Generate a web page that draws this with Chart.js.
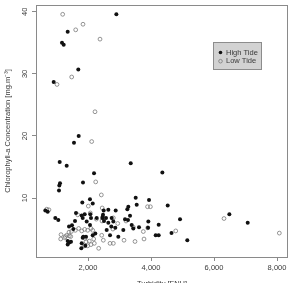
<!DOCTYPE html>
<html lang="en">
<head>
<meta charset="UTF-8">
<title>Chlorophyll-a vs Turbidity</title>
<style>
  html, body { margin: 0; padding: 0; background: #fff; }
</style>
</head>
<body>
<canvas id="myChart" width="293" height="283"></canvas>
<script src="https://cdn.jsdelivr.net/npm/chart.js@4.4.0/dist/chart.umd.min.js"></script>
<script>
  // --------------------------------------------------------------- data

  var seriesNames = ['High Tide', 'Low Tide']
  var xTicks = [2000, 4000, 6000, 8000]
  var yTicks = [10, 20, 30, 40]

  var highTideX = [2900, 1355, 1174, 1228, 1692, 911, 1704, 1555, 1101, 1323, 3356, 2191, 4360,
    1111, 1089, 1079, 1841, 3514, 3937, 1819, 2063, 2150, 3546, 4530, 645, 720, 1619, 1895, 2073,
    2498, 2645, 2879, 3248, 3280, 962, 1057, 1587, 1831, 1958, 2276, 2454, 2466, 2508, 2752, 2804,
    3334, 3175, 3915, 6487, 4921, 7070, 3905, 4244, 4149, 4244, 4651, 5152, 1492, 1535, 2063, 2645,
    2740, 2867, 3121, 3387, 3438, 3619, 2593, 2699, 2962, 1355, 1407, 1460, 1355, 1831, 1800, 1788,
    1915, 2149, 2232, 1937, 1851, 1397, 1800, 2095, 2476, 2571, 3270]
  var highTideY = [39.6, 36.8, 35.0, 34.7, 30.7, 28.7, 20.0, 18.9, 15.8, 15.2, 15.6, 14.0, 14.1,
    12.4, 12.0, 11.2, 12.5, 10.05, 9.7, 9.3, 9.8, 9.1, 8.9, 8.8, 8.0, 7.8, 7.6, 7.4, 7.4,
    8.0, 8.1, 8.0, 8.2, 8.6, 6.8, 6.45, 6.3, 6.8, 6.2, 6.8, 6.8, 7.0, 6.3, 6.8, 6.2,
    7.15, 6.6, 6.2, 7.4, 6.6, 6.0, 5.2, 5.7, 4.0, 4.0, 4.35, 3.2, 5.6, 5.0, 5.65, 6.0,
    5.4, 5.2, 4.85, 5.65, 5.1, 5.3, 4.85, 4.0, 3.75, 3.06, 2.85, 2.95, 2.5, 3.6, 2.7, 1.9,
    2.3, 4.0, 4.3, 3.75, 3.75, 5.4, 7.2, 6.8, 7.3, 6.8, 6.45]

  var lowTideX = [1196, 1841, 1609, 2381, 1016, 1482, 2222, 2117, 2244, 2423, 2010, 1673, 2450,
    3890, 3980, 690, 760, 2073, 2264, 2444, 2804, 2943, 3207, 3896, 3438, 3143, 3492, 3778, 3756,
    4785, 6318, 8074, 2339, 1143, 1133, 1280, 1451, 1397, 1597, 1704, 1800, 1895, 1990, 2095, 2149,
    1260, 1323, 1407, 1905, 1937, 2042, 1883, 1990, 2095, 2181, 2200, 2435, 2486, 2699, 2804, 2790, 1470]
  var lowTideY = [39.6, 38.0, 37.1, 35.6, 28.3, 29.5, 23.9, 19.1, 12.6, 10.5, 8.7, 7.3, 8.4,
    8.6, 8.6, 8.2, 8.1, 7.6, 6.6, 6.3, 6.8, 5.9, 6.3, 5.2, 5.3, 3.2, 3.0, 3.4, 4.6,
    4.7, 6.7, 4.35, 1.9, 4.1, 3.4, 3.8, 3.8, 4.5, 4.8, 5.1, 4.7, 4.95, 4.8, 5.1, 4.8,
    3.6, 4.0, 3.9, 3.5, 2.95, 3.06, 2.3, 2.3, 2.5, 3.4, 2.7, 4.0, 3.2, 2.7, 2.7, 5.0, 4.6]

  var xTitle = 'Turbidity [FNU]'
  var yTitle = 'Chlorophyll-a Concentration [mg.m\u207B\u00B3]'

  // --------------------------------------------------------------- helpers

  var toPoints = function (xs, ys) {
    return xs.map(function (x, i) { return { x: x, y: ys[i] } })
  }

  var FONT = '"Liberation Sans", Arial, sans-serif'
  var TEXT = '#3a3a3a'
  var LINE = '#8a8a8a'

  // box, rotated y labels, x title and the legend, R-style
  var rStylePlugin = {
    id: 'rStyle',
    afterDraw: function (chart) {
      var ctx = chart.ctx
      var a = chart.chartArea
      var yScale = chart.scales.y
      ctx.save()

      ctx.strokeStyle = LINE
      ctx.lineWidth = 1
      ctx.strokeRect(a.left + 0.5, a.top + 0.5, a.right - a.left - 1, a.bottom - a.top)

      ctx.fillStyle = TEXT
      ctx.font = '7.5px ' + FONT
      ctx.textAlign = 'center'
      ctx.textBaseline = 'middle'
      yScale.ticks.forEach(function (t) {
        var py = yScale.getPixelForValue(t.value)
        ctx.save()
        ctx.translate(24.5, py)
        ctx.rotate(-Math.PI / 2)
        ctx.fillText(String(t.value), 0, 0)
        ctx.restore()
      })

      ctx.textBaseline = 'top'
      ctx.fillText(xTitle, (a.left + a.right) / 2, 280.5)

      // legend
      var lx = 213, ly = 42, lw = 49, lh = 28
      ctx.fillStyle = '#d2d2d2'
      ctx.fillRect(lx, ly, lw, lh)
      ctx.strokeStyle = '#8c8c8c'
      ctx.strokeRect(lx + 0.5, ly + 0.5, lw - 1, lh - 1)
      ctx.textAlign = 'left'
      ctx.textBaseline = 'middle'
      chart.data.datasets.forEach(function (ds, i) {
        var cy = ly + 10.5 + i * 8.7
        ctx.beginPath()
        ctx.arc(lx + 7.5, cy, 1.8, 0, Math.PI * 2)
        if (i === 0) {
          ctx.fillStyle = ds.backgroundColor
          ctx.fill()
        } else {
          ctx.strokeStyle = ds.borderColor
          ctx.lineWidth = 0.8
          ctx.stroke()
        }
        ctx.fillStyle = TEXT
        ctx.fillText(ds.label, lx + 13, cy)
      })
      ctx.restore()
    }
  }

  // --------------------------------------------------------------- chart.js

  var ctx = document.getElementById('myChart').getContext('2d')

  var myChart = new Chart(ctx, {
    type: 'scatter',
    data: {
      datasets: [
        {
          label: seriesNames[0],
          data: toPoints(highTideX, highTideY),
          backgroundColor: '#111',
          borderColor: '#111',
          borderWidth: 0,
          pointRadius: 2
        },
        {
          label: seriesNames[1],
          data: toPoints(lowTideX, lowTideY),
          backgroundColor: 'rgba(255,255,255,0)',
          borderColor: '#7a7a7a',
          borderWidth: 0.8,
          pointRadius: 1.9
        }
      ]
    },
    options: {
      responsive: false,
      animation: false,
      devicePixelRatio: 1,
      layout: { padding: { top: 5, right: 5, left: 0, bottom: 0 } },
      plugins: {
        legend: { display: false },
        tooltip: { enabled: false }
      },
      scales: {
        x: {
          type: 'linear',
          min: 349,
          max: 8349,
          afterBuildTicks: function (s) { s.ticks = xTicks.map(function (v) { return { value: v } }) },
          afterFit: function (s) { s.height = 26 },
          grid: { drawOnChartArea: false, drawTicks: true, tickLength: 4, color: LINE },
          border: { display: false },
          ticks: { color: TEXT, font: { family: FONT, size: 7.5 }, padding: 2, maxRotation: 0 }
        },
        y: {
          min: 0.5,
          max: 41.1,
          afterBuildTicks: function (s) { s.ticks = yTicks.map(function (v) { return { value: v } }) },
          afterFit: function (s) { s.width = 36 },
          grid: { drawOnChartArea: false, drawTicks: true, tickLength: 4, color: LINE },
          border: { display: false },
          ticks: { display: false },
          title: {
            display: true,
            text: yTitle,
            color: TEXT,
            font: { family: FONT, size: 7.5 },
            padding: { top: 3, bottom: 0 }
          }
        }
      }
    },
    plugins: [rStylePlugin]
  })
</script>
</body>
</html>
